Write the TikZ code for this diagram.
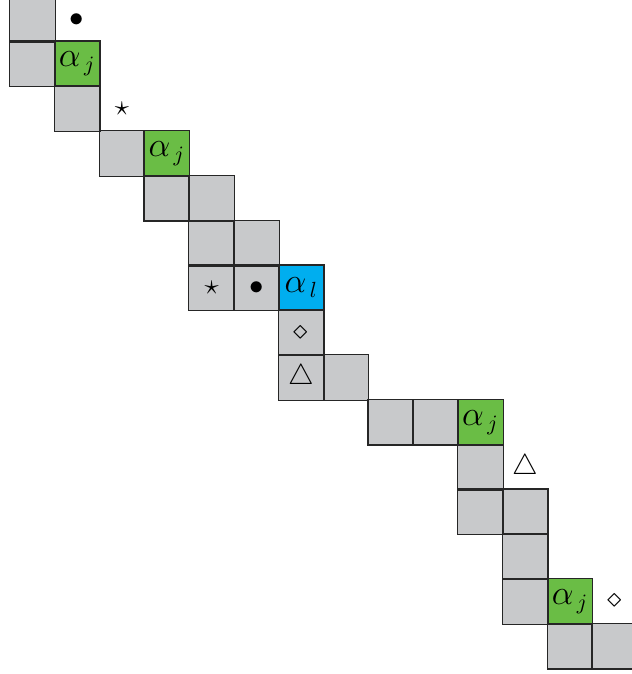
\documentclass[tikz,border=0pt]{standalone}
\definecolor{cellgray}{RGB}{200,201,203}
\definecolor{cellgreen}{RGB}{106,189,69}
\definecolor{cellblue}{RGB}{0,174,239}
\tikzset{
  cell/.style={minimum size=22.4pt, inner sep=0pt, fill=cellgray, font=\fontsize{14}{16}\selectfont},
  gcell/.style={cell, fill=cellgreen, font=\fontsize{16}{18}\selectfont},
  bcell/.style={cell, fill=cellblue, font=\fontsize{16}{18}\selectfont},
  symb/.style={inner sep=0pt, font=\fontsize{14}{16}\selectfont},
  cellborder/.style={draw=black!85, line width=0.65pt}
}
\begin{document}
\begin{tikzpicture}[x=22.4pt,y=-22.4pt]
\useasboundingbox (0,0) rectangle (14.107,15.045);
\clip (0,0) rectangle (14.107,15.045);
\begin{scope}[shift={(0.7232,0.4263)}]
\node[cell] (c0r0) at (0,0) {};
\node[symb] (dot1) at (1,0.03) {$\bullet$};
\node[cell] (c0r1) at (0,1) {};
\node[gcell] (g1) at (1,1) {$\alpha_{\,j}$};
\node[cell] (c1r2) at (1,2) {};
\node[symb] (star1) at (2,2) {$\star$};
\node[cell] (c2r3) at (2,3) {};
\node[gcell] (g2) at (3,3) {$\alpha_{\,j}$};
\node[cell] (c3r4) at (3,4) {};
\node[cell] (c4r4) at (4,4) {};
\node[cell] (c4r5) at (4,5) {};
\node[cell] (c5r5) at (5,5) {};
\node[cell] (c4r6) at (4,6) {$\star$};
\node[cell] (c5r6) at (5,6) {$\bullet$};
\node[bcell] (b1) at (6,6) {$\alpha_{\,l}$};
\node[cell] (c6r7) at (6,7) {$\diamond$};
\node[cell] (c6r8) at (6,8) {$\triangle$};
\node[cell] (c7r8) at (7,8) {};
\node[cell] (c8r9) at (8,9) {};
\node[cell] (c9r9) at (9,9) {};
\node[gcell] (g3) at (10,9) {$\alpha_{\,j}$};
\node[cell] (c10r10) at (10,10) {};
\node[symb] (tri1) at (11,10) {$\triangle$};
\node[cell] (c10r11) at (10,11) {};
\node[cell] (c11r11) at (11,11) {};
\node[cell] (c11r12) at (11,12) {};
\node[cell] (c11r13) at (11,13) {};
\node[gcell] (g4) at (12,13) {$\alpha_{\,j}$};
\node[symb] (dia1) at (13,13) {$\diamond$};
\node[cell] (c12r14) at (12,14) {};
\node[cell] (c13r14) at (13,14) {};
\foreach \n in {c0r0,c0r1,g1,c1r2,c2r3,g2,c3r4,c4r4,c4r5,c5r5,c4r6,c5r6,b1,c6r7,c6r8,c7r8,c8r9,c9r9,g3,c10r10,c10r11,c11r11,c11r12,c11r13,g4,c12r14,c13r14}
  \draw[cellborder] (\n.south west) rectangle (\n.north east);
\end{scope}
\end{tikzpicture}
\end{document}
